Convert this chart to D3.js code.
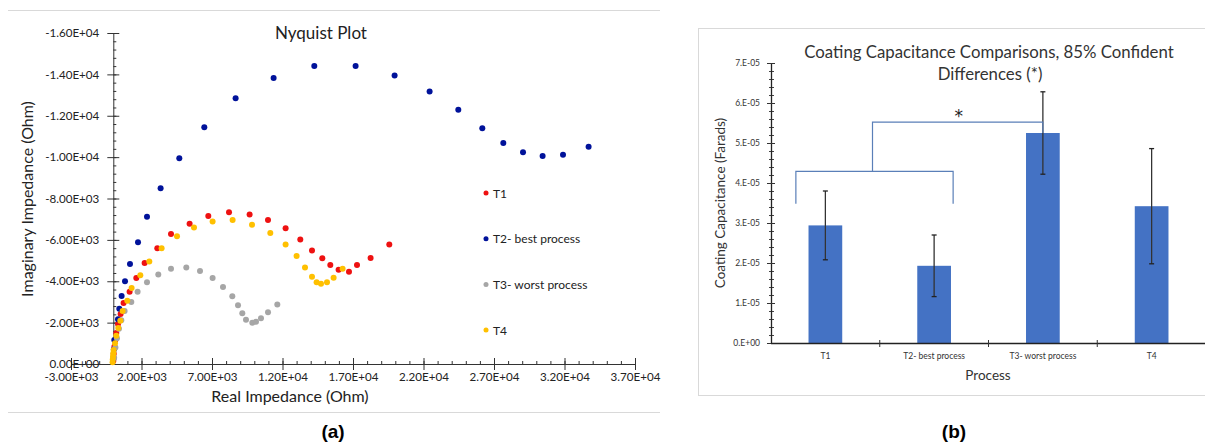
<!DOCTYPE html>
<html>
<head>
<meta charset="utf-8">
<script src="https://cdn.jsdelivr.net/npm/d3@7"></script>
<style>
  body { margin: 0; background: #fff; }
  svg { display: block; font-family: Lato, "Open Sans", sans-serif; }
</style>
</head>
<body>
<div id="chart"></div>
<script>
// ---- data : Nyquist plot (Real Z, Imag Z in Ohm) ----
var t1 = [[0,-150],[30,-500],[80,-850],[140,-1150],[213,-1500],[333,-1930],[518,-2420],[730,-2950],[1156,-3490],[1631,-4160],[2220,-4880],[3121,-5600],[4092,-6280],[5411,-6780],[6738,-7160],[8206,-7340],[9667,-7230],[10972,-6960],[12220,-6560],[13262,-6020],[14092,-5490],[14823,-5110],[15390,-4780],[15979,-4560],[16716,-4460],[17284,-4780],[18248,-5120],[19574,-5780]];
var t2 = [[10,-250],[40,-700],[71,-1160],[333,-2160],[426,-2670],[589,-3290],[830,-4000],[1184,-4830],[1752,-5890],[2390,-7120],[3355,-8500],[4681,-9950],[6454,-11450],[8674,-12840],[11369,-13830],[14255,-14400],[17184,-14400],[19950,-13950],[22433,-13170],[24468,-12290],[26170,-11390],[27660,-10680],[29057,-10230],[30447,-10050],[31894,-10110],[33709,-10500]];
var t3 = [[60,-300],[150,-800],[260,-1250],[400,-1700],[567,-2110],[801,-2560],[1277,-3000],[1723,-3490],[2390,-3950],[3191,-4330],[4092,-4600],[5177,-4670],[6149,-4490],[7043,-4160],[7780,-3720],[8440,-3270],[8844,-2840],[9149,-2450],[9411,-2140],[9858,-2000],[10121,-2040],[10475,-2210],[10972,-2500],[11631,-2880]];
var t4 = [[-50,-80],[-40,-220],[-20,-380],[0,-520],[21,-680],[121,-1000],[213,-1370],[355,-1740],[496,-2090],[660,-2560],[993,-3060],[1298,-3670],[1915,-4290],[2553,-4960],[3426,-5600],[4518,-6170],[5723,-6600],[7043,-6890],[8461,-6960],[9837,-6730],[11135,-6330],[12220,-5780],[13000,-5220],[13596,-4670],[14092,-4220],[14418,-3950],[14730,-3880],[15156,-3950],[15624,-4170],[16262,-4600]];
var seriesNames = ["T1", "T2- best process", "T3- worst process", "T4"];
var xTicksA = d3.range(-3000, 37001, 5000);
var yTicksA = d3.range(0, -16001, -2000);

// ---- data : coating capacitance bars ----
var processes = ["T1", "T2- best process", "T3- worst process", "T4"];
var capMean = [2.94e-5, 1.93e-5, 5.25e-5, 3.42e-5];
var capErr = [0.86e-5, 0.77e-5, 1.03e-5, 1.44e-5];
var yTicksB = d3.range(0, 7.01e-5, 1e-5);

const W = 1205, H = 445;
var colors = ["#ee1111", "#00129a", "#a6a6a6", "#ffc000"];

var svg = d3.select("#chart").append("svg")
    .attr("width", W).attr("height", H);

// Excel style scientific labels
function sci(v, dec) {
  if (Math.abs(v) < 1e-12) return (dec ? (0).toFixed(dec) : "0.") + "E+00";
  var e = Math.floor(Math.log10(Math.abs(v)) + 1e-9);
  var m = v / Math.pow(10, e);
  var ms = dec ? m.toFixed(dec) : Math.round(m) + ".";
  return ms + "E" + (e < 0 ? "-" : "+") + String(Math.abs(e)).padStart(2, "0");
}

// ================= (a) Nyquist plot =================
var gA = svg.append("g");
gA.append("line").attr("x1", 8).attr("x2", 660).attr("y1", 10.5).attr("y2", 10.5).attr("stroke", "#d9d9d9");
gA.append("line").attr("x1", 8).attr("x2", 660).attr("y1", 412.5).attr("y2", 412.5).attr("stroke", "#d9d9d9");

var x = d3.scaleLinear().domain([-3000, 37000]).range([71, 635]);
var y = d3.scaleLinear().domain([0, -16000]).range([364, 33]);

// minor ticks
gA.append("g").selectAll("line")
  .data(d3.range(-3000, 37001, 1000))
  .join("line")
  .attr("x1", d => x(d) + 0.5).attr("x2", d => x(d) + 0.5)
  .attr("y1", y(0) - 3).attr("y2", y(0))
  .attr("stroke", "#333");
gA.append("g").selectAll("line")
  .data(d3.range(0, -16001, -400))
  .join("line")
  .attr("x1", x(0)).attr("x2", x(0) + 3)
  .attr("y1", d => y(d) + 0.5).attr("y2", d => y(d) + 0.5)
  .attr("stroke", "#333");

var xAxisA = gA.append("g")
    .attr("transform", "translate(0," + y(0) + ")")
    .call(d3.axisBottom(x).tickValues(xTicksA).tickFormat(d => sci(d, 2)).tickSizeInner(6).tickSizeOuter(0));
xAxisA.selectAll(".tick line").attr("y1", -6).attr("y2", 6);

var yAxisA = gA.append("g")
    .attr("transform", "translate(" + x(0) + ",0)")
    .call(d3.axisLeft(y).tickValues(yTicksA).tickFormat(d => sci(d, 2)).tickSizeInner(6).tickSizeOuter(0));
yAxisA.selectAll(".tick line").attr("x1", -6).attr("x2", 6);
yAxisA.selectAll(".tick text").attr("x", -14);

gA.selectAll(".domain").attr("stroke", "#333");
gA.selectAll(".tick line").attr("stroke", "#333");
gA.selectAll(".tick text").attr("font-family", "Lato, sans-serif").attr("font-size", 11.6).attr("fill", "#222");
xAxisA.selectAll(".tick text").attr("y", 9);

[t1, t2, t3, t4].forEach(function(s, i) {
  gA.append("g").selectAll("circle")
    .data(s).join("circle")
    .attr("cx", d => x(d[0])).attr("cy", d => y(d[1]))
    .attr("r", 3).attr("fill", colors[i]);
});

gA.append("text").attr("x", 321).attr("y", 39).attr("text-anchor", "middle")
  .attr("font-size", 17).attr("fill", "#222").text("Nyquist Plot");
gA.append("text").attr("x", 290).attr("y", 402).attr("text-anchor", "middle")
  .attr("font-size", 16).attr("fill", "#222").text("Real Impedance (Ohm)");
gA.append("text").attr("transform", "translate(33,199) rotate(-90)").attr("text-anchor", "middle")
  .attr("font-size", 16).attr("fill", "#222").text("Imaginary Impedance (Ohm)");

var leg = gA.append("g").selectAll("g").data(seriesNames).join("g")
  .attr("transform", (d, i) => "translate(486," + (193 + i * 45.7) + ")");
leg.append("circle").attr("r", 2.5).attr("fill", (d, i) => colors[i]);
leg.append("text").attr("x", 7).attr("y", 4.5).attr("font-size", 12).attr("fill", "#222").text(d => d);

svg.append("text").attr("x", 333).attr("y", 438).attr("text-anchor", "middle")
  .attr("font-family", "Liberation Sans, Arial, sans-serif").attr("font-weight", "bold")
  .attr("font-size", 19).attr("fill", "#000").text("(a)");

// ================= (b) Coating capacitance =================
var gB = svg.append("g");
gB.append("rect").attr("x", 698.5).attr("y", 28.5).attr("width", 520).attr("height", 367)
  .attr("fill", "none").attr("stroke", "#d9d9d9");

var xb = d3.scaleBand().domain(processes).range([771, 1206]).paddingInner(0.69).paddingOuter(0.345);
var yb = d3.scaleLinear().domain([0, 7e-5]).range([343, 63]);

gB.append("g").selectAll("line")
  .data(d3.range(0, 7.01e-5, 2e-6))
  .join("line")
  .attr("x1", 769).attr("x2", 774)
  .attr("y1", d => yb(d) + 0.5).attr("y2", d => yb(d) + 0.5)
  .attr("stroke", "#444");

var yAxisB = gB.append("g").attr("transform", "translate(771,0)")
  .call(d3.axisLeft(yb).tickValues(yTicksB).tickFormat(d => sci(d, 0)).tickSizeInner(4).tickSizeOuter(0));
yAxisB.selectAll(".tick line").attr("x1", -4).attr("x2", 4);
yAxisB.selectAll(".tick text").attr("x", -11).attr("font-size", 8.5);

// bars
gB.append("g").selectAll("rect").data(processes).join("rect")
  .attr("x", d => xb(d)).attr("width", xb.bandwidth())
  .attr("y", (d, i) => yb(capMean[i])).attr("height", (d, i) => yb(0) - yb(capMean[i]))
  .attr("fill", "#4472c4");

var xAxisB = gB.append("g").attr("transform", "translate(0," + yb(0) + ")")
  .call(d3.axisBottom(xb).tickSize(0).tickSizeOuter(0));
xAxisB.select(".domain").attr("d", "M771,0.5H1206");
xAxisB.selectAll(".tick text").attr("y", 10).attr("font-size", 8.5);
// category boundary ticks
gB.append("g").selectAll("line").data(processes.slice(1)).join("line")
  .attr("x1", d => xb(d) - xb.step() * xb.paddingInner() / 2)
  .attr("x2", d => xb(d) - xb.step() * xb.paddingInner() / 2)
  .attr("y1", yb(0) - 3).attr("y2", yb(0) + 4)
  .attr("stroke", "#333");

gB.selectAll(".domain").attr("stroke", "#222").attr("stroke-width", 1.3);
gB.selectAll(".tick line").attr("stroke", "#333");
gB.selectAll(".tick text").attr("font-family", "Lato, sans-serif").attr("fill", "#333");

// error bars
var eb = gB.append("g").selectAll("g").data(processes).join("g")
  .attr("transform", d => "translate(" + (xb(d) + xb.bandwidth() / 2) + ",0)");
eb.append("line").attr("y1", (d, i) => yb(capMean[i] + capErr[i])).attr("y2", (d, i) => yb(capMean[i] - capErr[i]))
  .attr("stroke", "#333").attr("stroke-width", 1.3);
eb.append("line").attr("x1", -2.5).attr("x2", 2.5)
  .attr("y1", (d, i) => yb(capMean[i] + capErr[i])).attr("y2", (d, i) => yb(capMean[i] + capErr[i]))
  .attr("stroke", "#222").attr("stroke-width", 1.3);
eb.append("line").attr("x1", -2.5).attr("x2", 2.5)
  .attr("y1", (d, i) => yb(capMean[i] - capErr[i])).attr("y2", (d, i) => yb(capMean[i] - capErr[i]))
  .attr("stroke", "#222").attr("stroke-width", 1.3);

// significance brackets (T1+T2 vs T3)
var c1 = xb("T1") + xb.bandwidth() / 2, c2 = xb("T2- best process") + xb.bandwidth() / 2;
var c3 = xb("T3- worst process") + xb.bandwidth() / 2;
var bl = c1 - 29.5, br = c2 + 19, bm = (bl + br) / 2 - 2;
var lowY = yb(4.29e-5), legY = yb(3.48e-5), highY = yb(5.52e-5);
gB.append("path")
  .attr("d", "M" + bl + "," + legY + "V" + lowY + "H" + br + "V" + legY +
             "M" + bm + "," + lowY + "V" + highY + "H" + c3 + "V" + yb(capMean[2]))
  .attr("fill", "none").attr("stroke", "#5a7fb8").attr("stroke-width", 1.2);
gB.append("text").attr("x", (bm + c3) / 2 + 1).attr("y", 122).attr("text-anchor", "middle")
  .attr("font-family", "DejaVu Sans, sans-serif")
  .attr("font-size", 17).attr("fill", "#222").text("*");

gB.append("text").attr("x", 989).attr("y", 58).attr("text-anchor", "middle")
  .attr("font-size", 16.8).attr("fill", "#333").text("Coating Capacitance Comparisons, 85% Confident");
gB.append("text").attr("x", 990).attr("y", 80).attr("text-anchor", "middle")
  .attr("font-size", 16.8).attr("fill", "#333").text("Differences (*)");
gB.append("text").attr("x", 988).attr("y", 380).attr("text-anchor", "middle")
  .attr("font-size", 13.5).attr("fill", "#333").text("Process");
gB.append("text").attr("transform", "translate(725,203) rotate(-90)").attr("text-anchor", "middle")
  .attr("font-size", 13.5).attr("fill", "#333").text("Coating Capacitance (Farads)");

svg.append("text").attr("x", 954).attr("y", 438).attr("text-anchor", "middle")
  .attr("font-family", "Liberation Sans, Arial, sans-serif").attr("font-weight", "bold")
  .attr("font-size", 19).attr("fill", "#000").text("(b)");
</script>
</body>
</html>
